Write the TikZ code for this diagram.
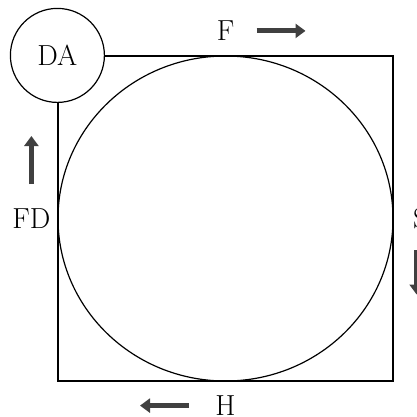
\documentclass[tikz,border=0pt]{standalone}
\usetikzlibrary{positioning, arrows.meta, shapes.geometric}

\begin{document}
\begin{tikzpicture}[
    x=1pt, y=1pt,
    frame/.style={draw, rectangle, line width=1.2pt, minimum width=335pt, minimum height=325pt},
    loop/.style={draw, ellipse, line width=1.2pt, minimum width=335pt, minimum height=325pt},
    corner/.style={draw, circle, line width=1.2pt, fill=white, minimum size=94pt, font=\fontsize{29}{33}\selectfont},
    lbl/.style={inner sep=0pt, font=\fontsize{29}{33}\selectfont},
    bigarrow/.style={-{Triangle[length=10pt, width=14pt]}, line width=5pt, draw=black!75}
]
\useasboundingbox (-225.5,-197.5) rectangle (191.5,218.5);

% Nodes
\node[frame] (frame) at (0,0) {};
\node[loop] (track) at (frame.center) {};
\node[corner] (da) at (frame.north west) {DA};
\node[lbl, above=24.5pt of frame.north, anchor=center] (f) {F};
\node[lbl, left=26pt of frame.west, anchor=center] (fd) {FD};
\node[lbl, right=27pt of frame.east, anchor=center] (s) {S};
\node[lbl, below=24pt of frame.south, anchor=center] (h) {H};

% Arrow ends
\coordinate[right=31pt of f.center] (f0);
\coordinate[right=80pt of f.center] (f1);
\coordinate[above=34.5pt of fd.center] (fd0);
\coordinate[above=82.5pt of fd.center] (fd1);
\coordinate[below left=31pt and 4pt of s.center] (s0);
\coordinate[below left=76pt and 4pt of s.center] (s1);
\coordinate[left=36.5pt of h.center] (h0);
\coordinate[left=85.5pt of h.center] (h1);

% Edges
\draw[bigarrow] (f0) -- (f1);
\draw[bigarrow] (fd0) -- (fd1);
\draw[bigarrow] (s0) -- (s1);
\draw[bigarrow] (h0) -- (h1);

\end{tikzpicture}
\end{document}
